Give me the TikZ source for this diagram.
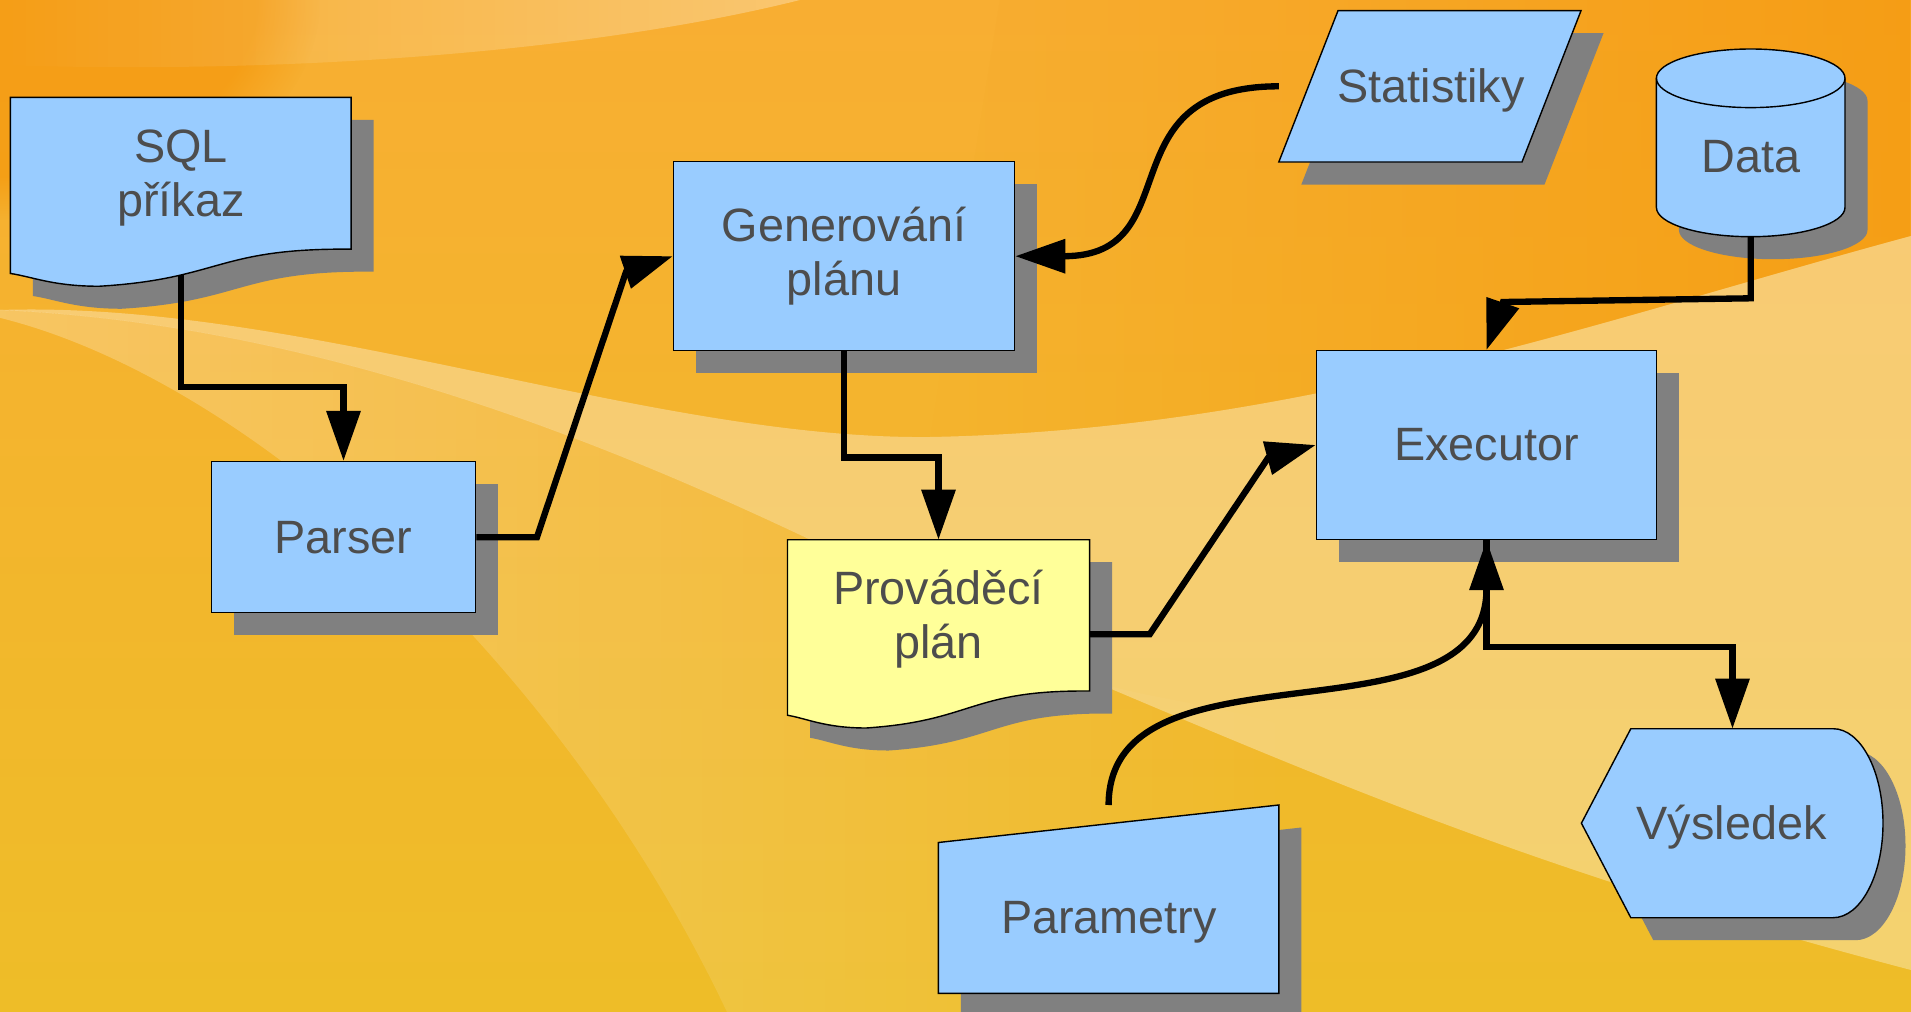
\documentclass[tikz,border=0pt]{standalone}
\usepackage{fontspec}
\setmainfont{Liberation Sans}
\usetikzlibrary{arrows.meta,shadows,fadings}

\definecolor{boxblue}{RGB}{153,204,255}
\definecolor{planyellow}{RGB}{255,255,153}
\definecolor{shadowgray}{RGB}{128,128,128}
\definecolor{textgray}{RGB}{77,77,77}
\definecolor{bgtop}{RGB}{248,174,50}
\definecolor{bgbot}{RGB}{238,189,40}
\definecolor{deeporange}{RGB}{245,152,12}

\tikzset{
  lbl/.style={font=\fontsize{13.3}{15.4}\selectfont, text=textgray, align=center},
  flowpart/.style={draw=black, line width=0.4pt, fill=boxblue},
  shadowpart/.style={fill=shadowgray, xshift=0.225cm, yshift=-0.225cm},
  procbox/.style={lbl, flowpart, inner sep=0pt,
    drop shadow={shadow xshift=0.225cm, shadow yshift=-0.225cm, fill=shadowgray, opacity=1}},
  conn/.style={line width=1.8pt, -{Triangle[length=5mm,width=3.3mm]}},
  docwave/.style={insert path={(0,0) -- (216,0) -- (216,173.6)
    .. controls (130.5,172.2) and (133.4,207.7) .. (56.2,216)
    .. controls (27,216) and (13.7,205) .. (0,201.4) -- cycle}}
}

\begin{document}
\begin{tikzpicture}[x=0.01cm, y=-0.01cm]
    \useasboundingbox (0,0) rectangle (1911,1012);
    % background
    \shade[top color=bgtop, bottom color=bgbot] (0,0) rectangle (1911,1012);
    \fill[deeporange, opacity=0.75, path fading=west] (1000,0) -- (1911,0) -- (1911,236)
        .. controls (1600,320) and (1300,430) .. (930,437) -- cycle;
    \fill[deeporange, opacity=0.7, path fading=circle with fuzzy edge 20 percent] (0,0) ellipse [x radius=320, y radius=220];
    \fill[white, opacity=0.3, path fading=west] (0,0) -- (800,0) .. controls (600,50) and (300,75) .. (0,65) -- cycle;
    \fill[white, opacity=0.33] (0,310) .. controls (300,300) and (650,440) .. (930,437)
        .. controls (1300,430) and (1600,320) .. (1911,236) -- (1911,970)
        .. controls (1550,875) and (1350,790) .. (1090,680)
        .. controls (850,560) and (450,330) .. (0,310) -- cycle;
    \fill[white, opacity=0.25, path fading=east] (0,318) .. controls (250,380) and (560,660) .. (727,1012)
        -- (1300,1012) -- (1300,730) .. controls (1200,700) and (1150,700) .. (1090,680)
        .. controls (850,560) and (450,330) .. (0,310) -- cycle;

    % SQL prikaz
    \begin{scope}[shift={(10.4,97.3)}, x=0.015769cm, y=-0.008741cm]
        \path[shadowpart, docwave];
        \path[flowpart, docwave];
    \end{scope}
    \node[lbl] (sql) at (181,178) {SQL\\příkaz};
    \coordinate (sqlbot) at (181,275);

    % Parser, Generovani planu, Executor
    \node[procbox, minimum width=2.643cm, minimum height=1.51cm] (parser) at (343.5,537.2) {Parser};
    \node[procbox, minimum width=3.409cm, minimum height=1.89cm] (gen) at (844,256.2) {Generování\\plánu};
    \node[procbox, minimum width=3.399cm, minimum height=1.886cm] (exec) at (1486.5,445) {Executor};

    % Statistiky
    \path[shadowpart] (1338,10.7) -- (1581,10.7) -- (1522,162) -- (1278.8,162) -- cycle;
    \path[flowpart] (1338,10.7) -- (1581,10.7) -- (1522,162) -- (1278.8,162) -- cycle;
    \node[lbl] (stat) at (1431,90.5) {Statistiky};
    \coordinate (statwest) at (1278.8,86.3);

    % Data
    \path[shadowpart] (1656.4,78.3) -- (1656.4,207.4) arc[start angle=180, end angle=0, x radius=94.3, y radius=29.3]
        -- (1845,78.3) arc[start angle=0, end angle=-180, x radius=94.3, y radius=29.3] -- cycle;
    \path[flowpart] (1656.4,78.3) -- (1656.4,207.4) arc[start angle=180, end angle=0, x radius=94.3, y radius=29.3]
        -- (1845,78.3) arc[start angle=0, end angle=-180, x radius=94.3, y radius=29.3] -- cycle;
    \draw[line width=0.4pt] (1656.4,78.3) arc[start angle=180, end angle=0, x radius=94.3, y radius=29.3];
    \node[lbl] (data) at (1750.7,156.5) {Data};
    \coordinate (databot) at (1750.7,236.7);

    % Provadeci plan
    \begin{scope}[shift={(787.5,539.7)}, x=0.013977cm, y=-0.008718cm]
        \path[shadowpart, docwave];
        \path[flowpart, fill=planyellow, docwave];
    \end{scope}
    \node[lbl] (plan) at (938.5,619.4) {Prováděcí\\plán};
    \coordinate (plantop) at (938.5,539.7);
    \coordinate (planeast) at (1089.4,634.3);

    % Parametry
    \path[shadowpart] (938.4,842.5) -- (1278.8,805) -- (1278.8,993.3) -- (938.4,993.3) -- cycle;
    \path[flowpart] (938.4,842.5) -- (1278.8,805) -- (1278.8,993.3) -- (938.4,993.3) -- cycle;
    \node[lbl] (param) at (1109,922.5) {Parametry};
    \coordinate (paramtop) at (1108.6,805);

    % Vysledek
    \path[shadowpart] (1630.8,728.7) -- (1833,728.7) arc[start angle=-90, end angle=90, x radius=50, y radius=94.5]
        -- (1630.8,917.7) -- (1581.4,823.2) -- cycle;
    \path[flowpart] (1630.8,728.7) -- (1833,728.7) arc[start angle=-90, end angle=90, x radius=50, y radius=94.5]
        -- (1630.8,917.7) -- (1581.4,823.2) -- cycle;
    \node[lbl] (result) at (1731.6,826.9) {Výsledek};
    \coordinate (resulttop) at (1732.5,728.7);

    % connectors
    \draw[conn] (sqlbot) -- ++(0,111.7) -| (parser.north);
    \draw[conn] (parser.east) -- ++(60.5,0) -- (626,272) -- (gen.west);
    \draw[conn] (statwest) .. controls (1102,86.3) and (1192,256.2) .. (gen.east);
    \draw[conn] (gen.south) -- ++(0,106) -| (plantop);
    \draw[conn] (planeast) -- (1149.7,634.3) -- (1268,458) -- (exec.west);
    \draw[conn] (databot) -- (1750.7,298.3) -- (1503,302) -- (exec.north);
    \draw[conn] (paramtop) .. controls (1108.6,632) and (1486.5,752) .. (exec.south);
    \draw[conn] (exec.south) -- ++(0,106.7) -| (resulttop);
\end{tikzpicture}
\end{document}
